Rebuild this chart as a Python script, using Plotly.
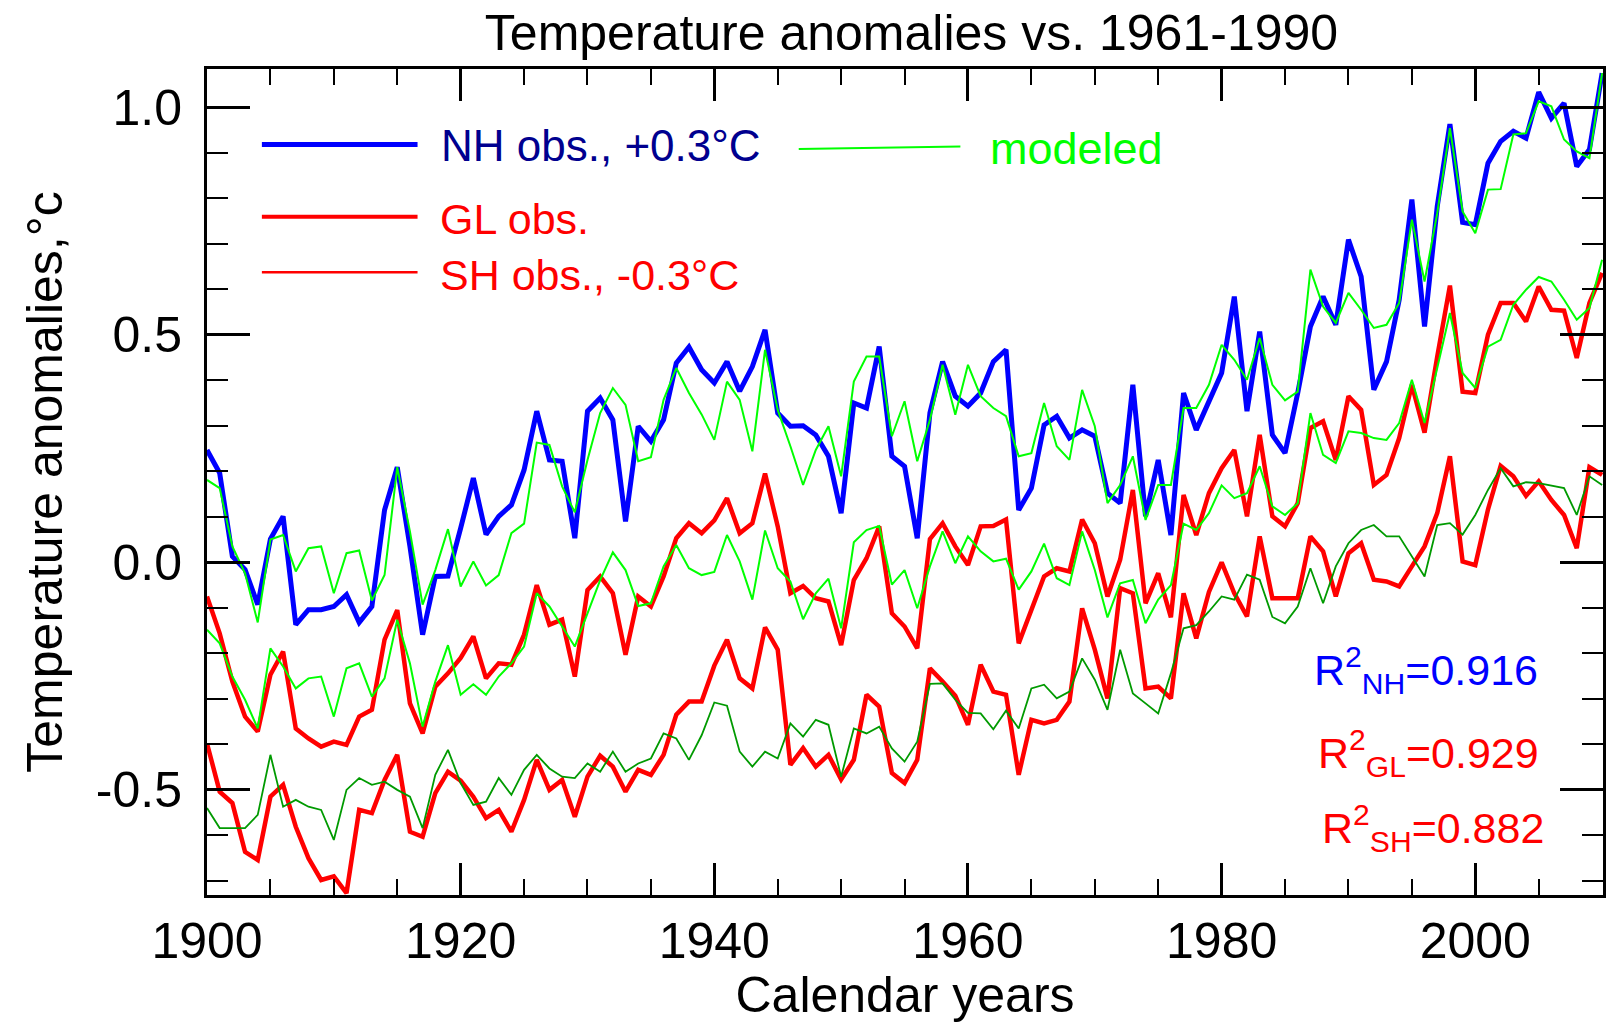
import plotly.graph_objects as go

years = list(range(1900, 2011))

nh_obs = [0.247, 0.196, 0.013, -0.016, -0.093, 0.051, 0.101, -0.137, -0.104, -0.104,
          -0.097, -0.071, -0.132, -0.097, 0.115, 0.209, 0.035, -0.159, -0.031, -0.030,
          0.075, 0.185, 0.061, 0.101, 0.126, 0.203, 0.332, 0.225, 0.222, 0.053,
          0.332, 0.361, 0.313, 0.090, 0.299, 0.266, 0.313, 0.438, 0.473, 0.423,
          0.394, 0.441, 0.376, 0.430, 0.511, 0.328, 0.299, 0.300, 0.280, 0.233,
          0.108, 0.350, 0.339, 0.474, 0.233, 0.211, 0.053, 0.328, 0.441, 0.365,
          0.343, 0.372, 0.441, 0.467, 0.115, 0.163, 0.302, 0.321, 0.273, 0.291,
          0.277, 0.152, 0.130, 0.390, 0.101, 0.225, 0.060, 0.372, 0.291, 0.357,
          0.416, 0.584, 0.332, 0.507, 0.280, 0.240, 0.372, 0.518, 0.584, 0.522,
          0.709, 0.628, 0.379, 0.441, 0.577, 0.797, 0.518, 0.782, 0.963, 0.747,
          0.742, 0.877, 0.925, 0.947, 0.932, 1.033, 0.976, 1.009, 0.870, 0.907,
          1.075]

nh_mod = [0.181, 0.163, 0.035, -0.024, -0.132, 0.050, 0.060, -0.020, 0.031, 0.035,
          -0.068, 0.020, 0.026, -0.084, -0.028, 0.209, 0.068, -0.093, -0.017, 0.073,
          -0.053, 0.002, -0.051, -0.028, 0.064, 0.085, 0.263, 0.258, 0.167, 0.110,
          0.225, 0.328, 0.383, 0.346, 0.222, 0.231, 0.357, 0.427, 0.372, 0.325,
          0.269, 0.397, 0.357, 0.244, 0.467, 0.335, 0.255, 0.170, 0.247, 0.299,
          0.189, 0.397, 0.452, 0.452, 0.277, 0.354, 0.222, 0.313, 0.434, 0.324,
          0.434, 0.365, 0.339, 0.321, 0.233, 0.240, 0.350, 0.255, 0.225, 0.379,
          0.299, 0.130, 0.170, 0.233, 0.093, 0.170, 0.170, 0.339, 0.339, 0.390,
          0.478, 0.445, 0.401, 0.493, 0.390, 0.356, 0.375, 0.643, 0.562, 0.526,
          0.592, 0.555, 0.515, 0.522, 0.570, 0.753, 0.617, 0.767, 0.954, 0.771,
          0.723, 0.819, 0.820, 0.940, 0.943, 1.013, 1.002, 0.929, 0.903, 0.888,
          1.075]

gl_obs = [-0.075, -0.156, -0.262, -0.339, -0.372, -0.247, -0.196, -0.365, -0.387, -0.405,
          -0.394, -0.401, -0.339, -0.324, -0.170, -0.105, -0.310, -0.376, -0.273, -0.244,
          -0.210, -0.163, -0.255, -0.222, -0.225, -0.159, -0.050, -0.137, -0.126, -0.251,
          -0.061, -0.031, -0.068, -0.203, -0.075, -0.097, -0.031, 0.053, 0.086, 0.064,
          0.092, 0.141, 0.064, 0.086, 0.195, 0.079, -0.068, -0.052, -0.079, -0.086,
          -0.182, -0.039, 0.009, 0.079, -0.112, -0.141, -0.189, 0.051, 0.086, 0.035,
          -0.006, 0.079, 0.080, 0.094, -0.178, -0.105, -0.031, -0.013, -0.020, 0.094,
          0.042, -0.075, 0.006, 0.159, -0.090, -0.024, -0.121, 0.148, 0.060, 0.152,
          0.207, 0.247, 0.101, 0.280, 0.101, 0.079, 0.130, 0.295, 0.310, 0.225,
          0.365, 0.335, 0.170, 0.192, 0.273, 0.390, 0.285, 0.452, 0.608, 0.375,
          0.372, 0.500, 0.570, 0.570, 0.529, 0.606, 0.555, 0.553, 0.449, 0.570,
          0.636]

gl_mod = [-0.148, -0.178, -0.251, -0.302, -0.365, -0.189, -0.229, -0.277, -0.255, -0.251,
          -0.339, -0.233, -0.222, -0.295, -0.255, -0.126, -0.222, -0.361, -0.262, -0.182,
          -0.291, -0.268, -0.291, -0.251, -0.222, -0.185, -0.068, -0.097, -0.141, -0.185,
          -0.112, -0.039, 0.022, -0.017, -0.096, -0.090, -0.009, 0.038, -0.013, -0.028,
          -0.021, 0.060, 0.002, -0.082, 0.070, -0.013, -0.042, -0.125, -0.068, -0.036,
          -0.145, 0.044, 0.071, 0.080, -0.049, -0.017, -0.101, -0.009, 0.068, -0.002,
          0.057, 0.024, 0.002, 0.008, -0.060, -0.020, 0.041, -0.035, -0.050, 0.068,
          -0.017, -0.121, -0.046, -0.039, -0.134, -0.082, -0.050, 0.085, 0.071, 0.108,
          0.169, 0.141, 0.152, 0.211, 0.123, 0.104, 0.130, 0.328, 0.236, 0.218,
          0.288, 0.284, 0.273, 0.269, 0.306, 0.401, 0.306, 0.427, 0.548, 0.416,
          0.383, 0.474, 0.489, 0.566, 0.599, 0.627, 0.617, 0.577, 0.533, 0.559,
          0.665]

sh_obs = [-0.398, -0.504, -0.529, -0.636, -0.654, -0.515, -0.489, -0.581, -0.650, -0.698,
          -0.690, -0.727, -0.544, -0.551, -0.478, -0.423, -0.592, -0.603, -0.507, -0.460,
          -0.480, -0.515, -0.562, -0.544, -0.592, -0.522, -0.434, -0.500, -0.478, -0.559,
          -0.471, -0.425, -0.449, -0.504, -0.456, -0.467, -0.423, -0.335, -0.306, -0.306,
          -0.227, -0.170, -0.255, -0.277, -0.143, -0.192, -0.445, -0.408, -0.449, -0.423,
          -0.477, -0.434, -0.291, -0.317, -0.463, -0.485, -0.434, -0.233, -0.262, -0.293,
          -0.357, -0.225, -0.284, -0.291, -0.467, -0.346, -0.354, -0.346, -0.306, -0.101,
          -0.192, -0.299, -0.057, -0.068, -0.277, -0.273, -0.299, -0.068, -0.167, -0.065,
          0.000, -0.068, -0.119, 0.057, -0.079, -0.079, -0.079, 0.057, 0.024, -0.075,
          0.020, 0.042, -0.038, -0.042, -0.053, -0.009, 0.035, 0.108, 0.233, 0.002,
          -0.006, 0.116, 0.212, 0.189, 0.146, 0.178, 0.137, 0.104, 0.031, 0.209,
          0.192]

sh_mod = [-0.540, -0.584, -0.584, -0.584, -0.555, -0.423, -0.537, -0.522, -0.537, -0.544,
          -0.610, -0.500, -0.474, -0.489, -0.482, -0.500, -0.515, -0.584, -0.467, -0.412,
          -0.485, -0.533, -0.526, -0.474, -0.511, -0.456, -0.423, -0.453, -0.471, -0.474,
          -0.442, -0.460, -0.416, -0.460, -0.442, -0.431, -0.376, -0.387, -0.434, -0.380,
          -0.308, -0.315, -0.416, -0.449, -0.416, -0.431, -0.354, -0.383, -0.346, -0.357,
          -0.471, -0.365, -0.376, -0.361, -0.409, -0.438, -0.394, -0.267, -0.266, -0.302,
          -0.331, -0.332, -0.367, -0.326, -0.365, -0.277, -0.269, -0.299, -0.284, -0.211,
          -0.258, -0.324, -0.192, -0.288, -0.310, -0.332, -0.244, -0.145, -0.138, -0.108,
          -0.075, -0.082, -0.027, -0.038, -0.120, -0.134, -0.097, -0.013, -0.090, -0.009,
          0.042, 0.071, 0.082, 0.057, 0.057, 0.013, -0.031, 0.082, 0.086, 0.061,
          0.104, 0.159, 0.207, 0.167, 0.176, 0.174, 0.168, 0.163, 0.104, 0.189,
          0.170]

x_tick_vals = [1900, 1920, 1940, 1960, 1980, 2000]
x_tick_text = ["1900", "1920", "1940", "1960", "1980", "2000"]
y_tick_vals = [-0.5, 0.0, 0.5, 1.0]
y_tick_text = ["-0.5", "0.0", "0.5", "1.0"]

FONT = "Liberation Sans, Arial, Helvetica, sans-serif"
W, H = 1606, 1023
L, R, T, B = 207, 0, 69, 128
PW = W - L - R
PH = H - T - B


def px(x):
    return (x - L) / PW


def py(y):
    return (H - B - y) / PH


fig = go.Figure()
obs_style = [
    (sh_obs, "SH obs., -0.3°C", "#FF0000", 4.5),
    (gl_obs, "GL obs.", "#FF0000", 4.5),
    (nh_obs, "NH obs., +0.3°C", "#0000FF", 5),
]
mod_style = [
    (sh_mod, "SH modeled", "#009A00", 1.8),
    (gl_mod, "GL modeled", "#00FF00", 2),
    (nh_mod, "NH modeled", "#00FF00", 2),
]
for vals, name, color, width in obs_style + mod_style:
    fig.add_trace(go.Scatter(x=years, y=vals, mode="lines", name=name,
                             line=dict(color=color, width=width), showlegend=False))

# legend drawn by hand
shapes = [
    dict(type="line", xref="paper", yref="paper", x0=px(262), x1=px(418), y0=py(144.5), y1=py(144.5),
         line=dict(color="#0000FF", width=5)),
    dict(type="line", xref="paper", yref="paper", x0=px(800), x1=px(962), y0=py(149), y1=py(146.5),
         line=dict(color="#00FF00", width=2)),
    dict(type="line", xref="paper", yref="paper", x0=px(262), x1=px(418), y0=py(216.7), y1=py(216.7),
         line=dict(color="#FF0000", width=4)),
    dict(type="line", xref="paper", yref="paper", x0=px(262), x1=px(418), y0=py(272.3), y1=py(272.3),
         line=dict(color="#FF0000", width=2.5)),
]

annotations = []


def add_text(text, x, y, color, size):
    annotations.append(dict(text=text, xref="paper", yref="paper", x=px(x), y=py(y),
                            xanchor="left", yanchor="middle", showarrow=False,
                            font=dict(family=FONT, size=size, color=color)))


add_text("NH obs., +0.3°C", 439, 146, "#00008F", 44)
add_text("modeled", 990, 148, "#00FF00", 45)
add_text("GL obs.", 438, 219, "#FF0000", 43)
add_text("SH obs., -0.3°C", 438, 275, "#FF0000", 43)

add_text("R<sup>2</sup><sub>NH</sub>=0.916", 1314, 670, "#0000FF", 43)
add_text("R<sup>2</sup><sub>GL</sub>=0.929", 1318, 753, "#FF0000", 43)
add_text("R<sup>2</sup><sub>SH</sub>=0.882", 1322, 828, "#FF0000", 43)

common_axis = dict(showline=True, linewidth=3, linecolor="black", mirror="allticks",
                   ticks="inside", tickcolor="black", showgrid=False, zeroline=False,
                   tickfont=dict(family=FONT, size=50, color="black"))

fig.update_layout(
    width=W, height=H,
    margin=dict(l=L, r=R, t=T, b=B, pad=0),
    paper_bgcolor="white", plot_bgcolor="white",
    font=dict(family=FONT, color="black"),
    title=dict(text="Temperature anomalies vs. 1961-1990", x=px(913), xref="paper",
               xanchor="center", y=1 - 32.5 / H, yref="container", yanchor="middle",
               font=dict(family=FONT, size=50, color="black")),
    xaxis=dict(range=[1900, 2010.07], tickmode="array", tickvals=x_tick_vals, ticktext=x_tick_text,
               ticklen=32, tickwidth=3, ticklabelstandoff=0,
               minor=dict(ticks="inside", tickmode="linear", tick0=1900, dtick=5,
                          ticklen=16, tickwidth=2, tickcolor="black", showgrid=False),
               title=dict(text="Calendar years", standoff=7,
                          font=dict(family=FONT, size=50, color="black")),
               **common_axis),
    yaxis=dict(range=[-0.731, 1.084], tickmode="array", tickvals=y_tick_vals, ticktext=y_tick_text,
               ticklen=43, tickwidth=3, ticklabelstandoff=12,
               minor=dict(ticks="inside", tickmode="linear", tick0=0, dtick=0.1,
                          ticklen=21, tickwidth=2, tickcolor="black", showgrid=False),
               title=dict(text="Temperature anomalies,°c", standoff=18,
                          font=dict(family=FONT, size=50, color="black")),
               **common_axis),
    shapes=shapes,
    annotations=annotations,
)

post = (
    "document.body.style.margin='0';"
    "document.body.style.overflow='hidden';"
)

fig.write_html("out.html", post_script=post, config={"displayModeBar": False})
